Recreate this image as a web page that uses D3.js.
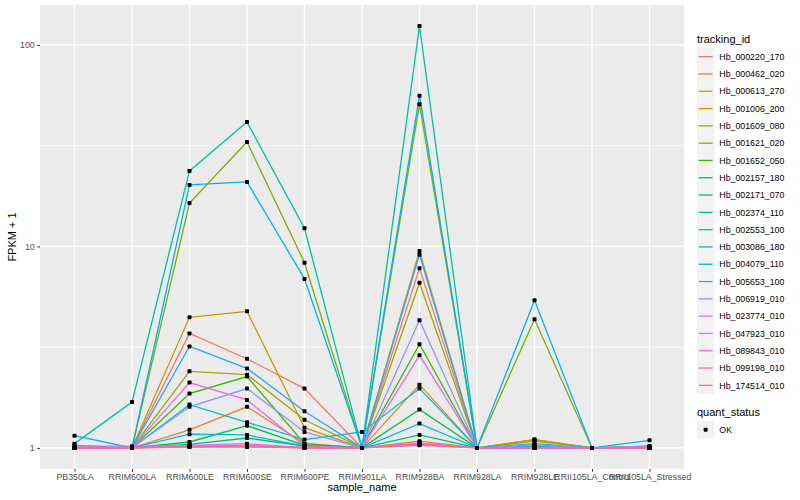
<!DOCTYPE html>
<html>
<head>
<meta charset="utf-8">
<script src="https://cdn.jsdelivr.net/npm/d3@7"></script>
<style>
body { margin: 0; background: #fff; }
text { font-family: "Liberation Sans", Arial, sans-serif; }
</style>
</head>
<body>
<script>
// 1. data
var categories = ["PB350LA", "RRIM600LA", "RRIM600LE", "RRIM600SE", "RRIM600PE", "RRIM901LA",
	"RRIM928BA", "RRIM928LA", "RRIM928LE", "RRII105LA_Control", "RRII105LA_Stressed"];

var trackingIds = ["Hb_000220_170", "Hb_000462_020", "Hb_000613_270", "Hb_001006_200", "Hb_001609_080",
	"Hb_001621_020", "Hb_001652_050", "Hb_002157_180", "Hb_002171_070", "Hb_002374_110",
	"Hb_002553_100", "Hb_003086_180", "Hb_004079_110", "Hb_005653_100", "Hb_006919_010",
	"Hb_023774_010", "Hb_047923_010", "Hb_089843_010", "Hb_099198_010", "Hb_174514_010"];

var quantStatus = ["OK"];

// FPKM + 1 per tracking id, in category order
var hb000220_170 = [1, 1, 3.7, 2.77, 1.97, 1, 7.8, 1, 1.02, 1, 1];
var hb000462_020 = [1, 1, 1.23, 1.6, 1.05, 1, 2.06, 1, 1.02, 1, 1];
var hb000613_270 = [1, 1, 1.02, 1.03, 1, 1, 1.08, 1, 1.1, 1, 1];
var hb001006_200 = [1, 1, 4.45, 4.76, 1.26, 1, 9.5, 1, 1.1, 1, 1.02];
var hb001609_080 = [1, 1, 2.4, 2.31, 1.38, 1, 6.6, 1, 1.08, 1, 1];
var hb001621_020 = [1, 1, 16.4, 33, 8.3, 1, 50.7, 1, 4.35, 1, 1.02];
var hb001652_050 = [1, 1, 1.86, 2.26, 1.05, 1, 3.27, 1, 1.03, 1, 1];
var hb002157_180 = [1, 1, 1.07, 1.29, 1.03, 1, 1.55, 1, 1.02, 1, 1];
var hb002171_070 = [1.03, 1, 1.04, 1.12, 1.02, 1, 1.16, 1, 1, 1, 1];
var hb002374_110 = [1.05, 1.69, 23.7, 41.4, 12.3, 1, 124, 1, 1.02, 1, 1];
var hb002553_100 = [1, 1, 1.64, 1.34, 1.1, 1.2, 1.97, 1, 1, 1, 1];
var hb003086_180 = [1, 1, 1.17, 1.16, 1.02, 1, 1.32, 1, 1, 1, 1];
var hb004079_110 = [1.15, 1, 20.2, 20.9, 6.9, 1, 56, 1, 5.4, 1, 1.09];
var hb005653_100 = [1, 1, 3.19, 2.48, 1.52, 1, 9.1, 1, 1.05, 1, 1];
var hb006919_010 = [1, 1, 1.6, 1.97, 1.2, 1, 4.3, 1, 1.03, 1, 1.02];
var hb023774_010 = [1, 1, 1.03, 1.05, 1, 1, 1.06, 1, 1, 1, 1];
var hb047923_010 = [1, 1, 2.11, 1.73, 1.02, 1, 2.88, 1, 1, 1, 1];
var hb089843_010 = [1.02, 1.02, 1.02, 1.03, 1.01, 1, 1.05, 1, 1, 1, 1.01];
var hb099198_010 = [1, 1, 1.01, 1.02, 1, 1, 1.04, 1, 1, 1, 1];
var hb174514_010 = [1, 1, 1.01, 1.01, 1, 1, 1.03, 1, 1, 1, 1];

var seriesValues = [hb000220_170, hb000462_020, hb000613_270, hb001006_200, hb001609_080,
	hb001621_020, hb001652_050, hb002157_180, hb002171_070, hb002374_110,
	hb002553_100, hb003086_180, hb004079_110, hb005653_100, hb006919_010,
	hb023774_010, hb047923_010, hb089843_010, hb099198_010, hb174514_010];

var yTicks = [1, 10, 100];

// ggplot hue palette for 20 groups
var palette = ["#F8766D", "#EA8331", "#D89000", "#C09B00", "#A3A500", "#7CAE00", "#39B600", "#00BB4E",
	"#00BF7D", "#00C1A3", "#00BFC4", "#00BAE0", "#00B0F6", "#35A2FF", "#9590FF", "#C77CFF",
	"#E76BF3", "#FA62DB", "#FF62BC", "#FF6C90"];

var Series = trackingIds.map(function(id, i) {
	return {id: id, color: palette[i], values: seriesValues[i].map(function(v, j) {
		return {cat: categories[j], v: v};
	})};
});

// 2. draw
var width = 800, height = 500;
var panel = {left: 40, top: 5, right: 684, bottom: 469};

var svg = d3.select("body").append("svg")
	.attr("width", width)
	.attr("height", height);

var x = d3.scalePoint()
	.domain(categories)
	.range([panel.left, panel.right])
	.padding(0.6);

// log scale with ggplot style 5% expansion in log space
var allVals = [].concat.apply([], seriesValues);
var lo = Math.log10(d3.min(allVals)), hi = Math.log10(d3.max(allVals));
var pad = (hi - lo) * 0.05;
var y = d3.scaleLog()
	.domain([Math.pow(10, lo - pad), Math.pow(10, hi + pad)])
	.range([panel.bottom, panel.top]);

// panel background
svg.append("rect")
	.attr("x", panel.left)
	.attr("y", panel.top)
	.attr("width", panel.right - panel.left)
	.attr("height", panel.bottom - panel.top)
	.attr("fill", "#EBEBEB");

// minor grid (half decades)
var minor = [Math.pow(10, -0.5), Math.pow(10, 0.5), Math.pow(10, 1.5), Math.pow(10, 2.5)]
	.filter(function(v) { return v > y.domain()[0] && v < y.domain()[1]; });
svg.selectAll("line.minor")
	.data(minor)
	.enter()
	.append("line")
	.attr("x1", panel.left).attr("x2", panel.right)
	.attr("y1", function(d) { return y(d); })
	.attr("y2", function(d) { return y(d); })
	.attr("stroke", "#fff")
	.attr("stroke-width", 0.7);

// major grid
svg.selectAll("line.hmajor")
	.data(yTicks)
	.enter()
	.append("line")
	.attr("x1", panel.left).attr("x2", panel.right)
	.attr("y1", function(d) { return y(d); })
	.attr("y2", function(d) { return y(d); })
	.attr("stroke", "#fff")
	.attr("stroke-width", 1.4);

svg.selectAll("line.vmajor")
	.data(categories)
	.enter()
	.append("line")
	.attr("x1", function(d) { return x(d); })
	.attr("x2", function(d) { return x(d); })
	.attr("y1", panel.top).attr("y2", panel.bottom)
	.attr("stroke", "#fff")
	.attr("stroke-width", 1.4);

// lines
var line = d3.line()
	.x(function(d) { return x(d.cat); })
	.y(function(d) { return y(d.v); });

svg.selectAll("path.series")
	.data(Series)
	.enter()
	.append("path")
	.attr("d", function(d) { return line(d.values); })
	.attr("fill", "none")
	.attr("stroke", function(d) { return d.color; })
	.attr("stroke-width", 1.3);

// points
var pts = [];
Series.forEach(function(s) { s.values.forEach(function(p) { pts.push(p); }); });
svg.selectAll("rect.pt")
	.data(pts)
	.enter()
	.append("rect")
	.attr("x", function(d) { return x(d.cat) - 2; })
	.attr("y", function(d) { return y(d.v) - 2; })
	.attr("width", 4).attr("height", 4)
	.attr("rx", 0.8)
	.attr("fill", "#000");

// axes
var xAxis = svg.append("g")
	.attr("transform", "translate(0," + panel.bottom + ")")
	.call(d3.axisBottom(x).tickSize(2.75).tickPadding(2.5));
var yAxis = svg.append("g")
	.attr("transform", "translate(" + panel.left + ",0)")
	.call(d3.axisLeft(y).tickValues(yTicks).tickFormat(d3.format("d")).tickSize(2.75).tickPadding(2.5));

[xAxis, yAxis].forEach(function(g) {
	g.select(".domain").remove();
	g.selectAll(".tick line").attr("stroke", "#333").attr("stroke-width", 1);
	g.selectAll(".tick text").attr("fill", "#4D4D4D").attr("font-size", "8.8px")
		.style("font-family", "Liberation Sans, Arial, sans-serif");
});

// axis titles
svg.append("text")
	.attr("x", (panel.left + panel.right) / 2)
	.attr("y", 491)
	.attr("text-anchor", "middle")
	.attr("font-size", "11px")
	.text("sample_name");

svg.append("text")
	.attr("transform", "translate(16," + ((panel.top + panel.bottom) / 2) + ") rotate(-90)")
	.attr("text-anchor", "middle")
	.attr("font-size", "11px")
	.text("FPKM + 1");

// legend: tracking_id
var keySize = 17.3;
var legX = 697, legY = 48;
svg.append("text")
	.attr("x", legX)
	.attr("y", 43)
	.attr("font-size", "11px")
	.text("tracking_id");

var legItems = svg.selectAll("g.leg")
	.data(Series)
	.enter()
	.append("g")
	.attr("transform", function(d, i) { return "translate(" + legX + "," + (legY + i * keySize) + ")"; });

legItems.append("rect")
	.attr("width", keySize).attr("height", keySize)
	.attr("fill", "#F2F2F2");
legItems.append("line")
	.attr("x1", 1.7).attr("x2", keySize - 1.7)
	.attr("y1", keySize / 2).attr("y2", keySize / 2)
	.attr("stroke", function(d) { return d.color; })
	.attr("stroke-width", 1.3);
legItems.append("text")
	.attr("x", keySize + 5)
	.attr("y", keySize / 2 + 3.2)
	.attr("font-size", "8.8px")
	.text(function(d) { return d.id; });

// legend: quant_status
svg.append("text")
	.attr("x", legX)
	.attr("y", 416)
	.attr("font-size", "11px")
	.text("quant_status");

var qItems = svg.selectAll("g.q")
	.data(quantStatus)
	.enter()
	.append("g")
	.attr("transform", function(d, i) { return "translate(" + legX + "," + (421 + i * keySize) + ")"; });
qItems.append("rect")
	.attr("width", keySize).attr("height", keySize)
	.attr("fill", "#F2F2F2");
qItems.append("rect")
	.attr("x", keySize / 2 - 2).attr("y", keySize / 2 - 2)
	.attr("width", 4).attr("height", 4)
	.attr("rx", 0.8)
	.attr("fill", "#000");
qItems.append("text")
	.attr("x", keySize + 5)
	.attr("y", keySize / 2 + 3.2)
	.attr("font-size", "8.8px")
	.text(function(d) { return d; });
</script>
</body>
</html>
